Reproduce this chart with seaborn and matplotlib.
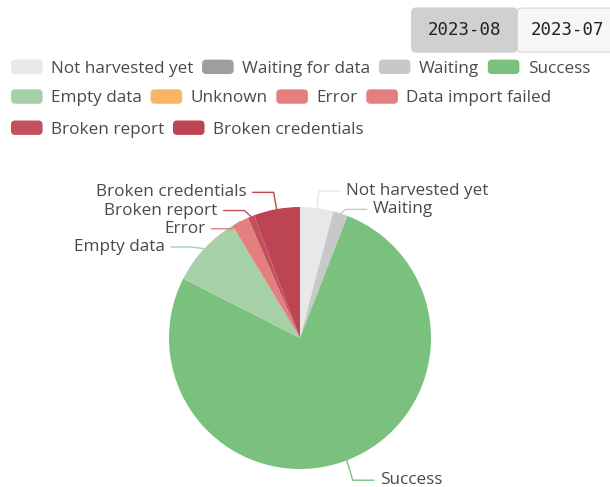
import numpy as np
import seaborn as sns
import matplotlib.pyplot as plt
from matplotlib.patches import FancyBboxPatch, Patch
from matplotlib.legend_handler import HandlerPatch

categories = ["Not harvested yet", "Waiting for data", "Waiting", "Success",
              "Empty data", "Unknown", "Error", "Data import failed",
              "Broken report", "Broken credentials"]
counts = [41, 0, 18, 765, 89, 0, 21, 0, 8, 57]
colors = ["#e8e8e8", "#9e9e9e", "#c8c8c8", "#7bc17e", "#a6d0a7",
          "#f8b665", "#e57f7f", "#e57f7f", "#c4505e", "#bd4452"]
legend_rows = [[0, 1, 2, 3], [4, 5, 6, 7], [8, 9]]
months = ["2023-08", "2023-07"]

sns.set_theme(style="white")
plt.rcParams["font.family"] = ["Open Sans", "DejaVu Sans"]
text_color = "#4a4a4a"
palette = sns.color_palette(colors)

fig = plt.figure(figsize=(6.1, 4.87), dpi=100)


class RoundBox(HandlerPatch):
    def create_artists(self, legend, orig, xd, yd, w, h, fs, trans):
        p = FancyBboxPatch((-xd, -yd), w, h,
                           boxstyle="round,pad=0,rounding_size=3",
                           fc=orig.get_facecolor(), ec="none", transform=trans)
        return [p]


# legend, one row at a time so items flow like the original
row_y = [0.860, 0.799, 0.735]
for row, y in zip(legend_rows, row_y):
    handles = [Patch(facecolor=palette[i], label=categories[i]) for i in row]
    lg = fig.legend(handles=handles, ncol=len(row), loc="center left",
                    bbox_to_anchor=(0.018, y), frameon=False, fontsize=12.3,
                    handlelength=1.85, handleheight=0.92, handletextpad=0.5,
                    columnspacing=0.5, borderpad=0, borderaxespad=0,
                    handler_map={Patch: RoundBox()})
    for t in lg.get_texts():
        t.set_color(text_color)

# month tabs
fig.add_artist(FancyBboxPatch((0.8475, 0.893), 0.3, 0.0903,
                              boxstyle="round,pad=0,rounding_size=0.008",
                              transform=fig.transFigure, fc="#f6f6f6",
                              ec="#dddddd", lw=1))
fig.add_artist(FancyBboxPatch((0.675, 0.893), 0.1725, 0.0903,
                              boxstyle="round,pad=0,rounding_size=0.008",
                              transform=fig.transFigure, fc="#d0d0d0",
                              ec="#d0d0d0", lw=1))
for m, x in zip(months, [0.7615, 0.87]):
    fig.text(x, 0.938, m, fontsize=12.5, family="DejaVu Sans Mono",
             color="#222222", ha="center" if x < 0.8 else "left", va="center")

# pie
r_px = 131
ax = fig.add_axes([(300 - r_px) / 610, (149 - r_px) / 487,
                   2 * r_px / 610, 2 * r_px / 487])
idx = [i for i, v in enumerate(counts) if v > 0]
vals = np.array([counts[i] for i in idx], dtype=float)
ax.pie(vals, colors=[palette[i] for i in idx], startangle=90,
       counterclock=False, wedgeprops=dict(linewidth=0))
ax.set_xlim(-1, 1)
ax.set_ylim(-1, 1)
ax.axis("off")

frac = vals / vals.sum()
mids = np.radians(360 * (np.cumsum(frac) - frac / 2))
ex, ey = 1.13 * np.sin(mids), 1.13 * np.cos(mids)

# push overlapping labels apart on each side
ly = ey.copy()
gap = 0.139
for side in (ex > 0, ex <= 0):
    order = [k for k in np.argsort(-ey) if side[k]]
    for a, b in zip(order[:-1], order[1:]):
        if ly[b] > ly[a] - gap and ly[a] > 0:
            ly[b] = ly[a] - gap
ly[ly < 0] -= 0.03

for k, i in enumerate(idx):
    c = palette[i]
    sx, sy = np.sin(mids[k]), np.cos(mids[k])
    d = 1 if ex[k] > 0 else -1
    hx = ex[k] + d * 0.16
    ax.plot([sx, ex[k], hx], [sy, ly[k], ly[k]], color=c, lw=1, clip_on=False)
    ax.text(hx + d * 0.045, ly[k], categories[i], fontsize=12.3, color=text_color,
            ha="left" if d > 0 else "right", va="center")

fig.savefig("out.png", dpi=100)
